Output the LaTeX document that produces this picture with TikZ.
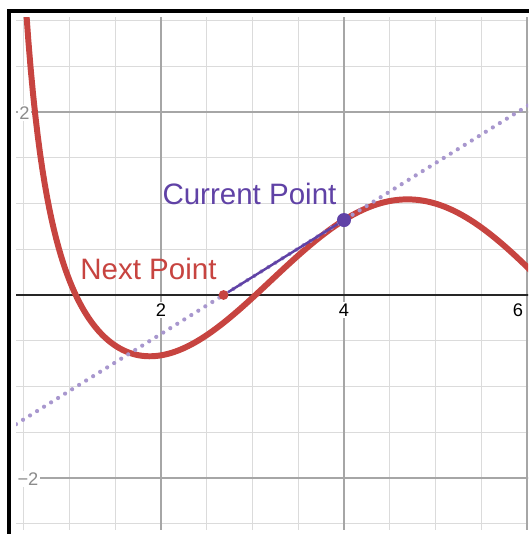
\documentclass[tikz,border=0pt]{standalone}
\usepackage{fontspec}
\setmainfont{Liberation Sans}
\usepackage{xcolor}
\usetikzlibrary{calc}
\definecolor{desred}{HTML}{C74440}
\definecolor{despurple}{HTML}{6042A6}

\begin{document}
\begin{tikzpicture}[
    x=1.83cm, y=1.83cm,
    minorgrid/.style={draw=black!14, line width=0.7pt},
    majorgrid/.style={draw=black!35, line width=0.8pt},
    axisline/.style={draw=black!85, line width=1.1pt},
    fcurve/.style={desred, line width=3.4pt},
    tangent/.style={despurple!55, line width=2.4pt, line cap=round,
                    dash pattern=on 0pt off 4.7pt},
    newton/.style={despurple, line width=1.4pt},
    dot/.style={circle, inner sep=0pt},
    ptlabel/.style={font=\fontsize{16.8}{18}\selectfont, anchor=base, inner sep=0pt},
    ticklabel/.style={font=\fontsize{10.4}{12}\selectfont, fill=white, inner sep=0.8pt}
]
    \useasboundingbox (0.2404,-2.612) rectangle (6.011,3.224);

    % frame
    \draw[line width=2.44pt, miter limit=4] (0.3388,-2.7) |- (6.1,3.1016);

    \begin{scope}
        \clip (0.4153,-2.568) rectangle (6.011,3.038);
        % grid
        \foreach \gx in {0.5,1,...,6}
            \draw[minorgrid] (\gx,-2.7) -- (\gx,3.1);
        \foreach \gy in {-2.5,-2,...,3}
            \draw[minorgrid] (0.3,\gy) -- (6.1,\gy);
        \foreach \gx in {2,4,6}
            \draw[majorgrid] (\gx,-2.7) -- (\gx,3.1);
        \foreach \gy in {-2,2}
            \draw[majorgrid] (0.3,\gy) -- (6.1,\gy);
        \draw[axisline] (0.3,0) -- (6.1,0);

        % f(x) = 1/x^2 - sin x
        \draw[fcurve] plot[domain=0.5:6.05, samples=220]
            (\x,{1/(\x*\x)-sin(\x r)});

        \coordinate (tanL) at (0.4153,-1.4117);
        \coordinate (tanR) at (6.011,2.0709);
        \draw[tangent] (tanL) -- (tanR);
    \end{scope}

    \node[dot, fill=despurple, minimum size=8pt] (cur) at (4,0.8193) {};
    \node[dot, fill=desred, minimum size=5.6pt] (nxt) at (2.6836,0) {};
    \draw[newton] (nxt) -- (cur);

    \node[ptlabel, text=despurple] (curlabel) at (2.967,0.984) {Current Point};
    \node[ptlabel, text=desred] (nxtlabel) at (1.863,0.164) {Next Point};

    % axis numbers
    \node[ticklabel] (xtwo)  at (2,-0.164) {2};
    \node[ticklabel] (xfour) at (4,-0.164) {4};
    \node[ticklabel] (xsix)  at (5.902,-0.164) {6};
    \node[ticklabel, text=black!45] (ytwo)  at (0.508,1.989) {2};
    \node[ticklabel, text=black!45] (ymtwo) at (0.546,-2.011) {−2};
\end{tikzpicture}
\end{document}
